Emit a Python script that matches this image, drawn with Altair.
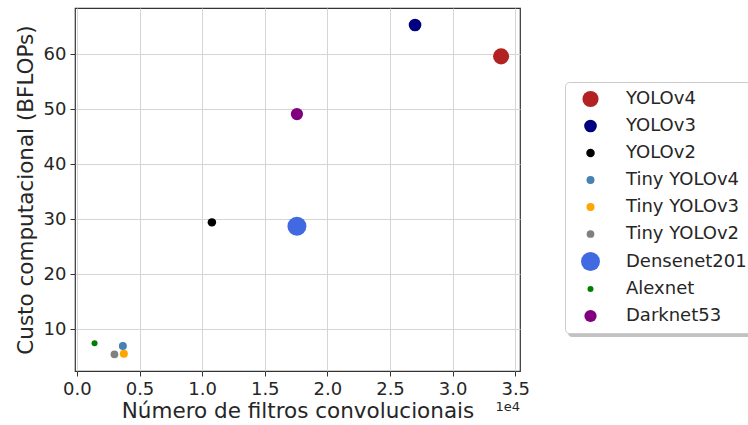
import altair as alt
import pandas as pd

# Model names, convolutional filter counts, cost (BFLOPs), marker areas and colours
models = ["YOLOv4", "YOLOv3", "YOLOv2", "Tiny YOLOv4", "Tiny YOLOv3",
          "Tiny YOLOv2", "Densenet201", "Alexnet", "Darknet53"]
filters = [33870, 27000, 10780, 3670, 3750, 3000, 17570, 1410, 17570]
bflops = [59.6, 65.3, 29.4, 6.9, 5.5, 5.4, 28.7, 7.4, 49.1]
areas = [260, 160, 72, 64, 64, 60, 360, 36, 150]
colors = ["#b22222", "#000080", "#000000", "#4682b4", "#ffa500",
          "#808080", "#4169e1", "#008000", "#800080"]

df = pd.DataFrame({"model": models, "filters": filters, "bflops": bflops})

FONT = "DejaVu Sans"
TEXT = "#262626"

points = alt.Chart(df).mark_circle(opacity=1).encode(
    x=alt.X("filters:Q",
            scale=alt.Scale(domain=[-150, 35380], nice=False, zero=False),
            axis=alt.Axis(values=[0, 5000, 10000, 15000, 20000, 25000, 30000, 35000],
                          labelExpr="format(datum.value / 10000, '.1f')",
                          title="Número de filtros convolucionais")),
    y=alt.Y("bflops:Q",
            scale=alt.Scale(domain=[2.36, 68.4], nice=False, zero=False),
            axis=alt.Axis(values=[10, 20, 30, 40, 50, 60],
                          title="Custo computacional (BFLOPs)")),
    color=alt.Color("model:N", scale=alt.Scale(domain=models, range=colors),
                    legend=alt.Legend(title=None, orient="none",
                                      legendX=490, legendY=74)),
    size=alt.Size("model:N",
                  scale=alt.Scale(type="ordinal", domain=models, range=areas)),
)

# Drop shadow behind the legend box
shadow = alt.Chart(pd.DataFrame({"s": [0]})).mark_rect(
    color="#9a9a9a", opacity=0.6, cornerRadius=4
).encode(x=alt.value(493), x2=alt.value(700), y=alt.value(78), y2=alt.value(329))

# Scale multiplier shown under the right end of the x axis
offset = alt.Chart(pd.DataFrame({"t": ["1e4"]})).mark_text(
    font=FONT, fontSize=13, color=TEXT, align="right", baseline="top"
).encode(text="t:N", x=alt.value(445), y=alt.value(393))

chart = alt.layer(shadow, points, offset).properties(
    width=445, height=363,
    autosize=alt.AutoSizeParams(type="none"),
    padding={"left": 75, "top": 8, "right": 228, "bottom": 54},
).configure_view(
    stroke="#333333", strokeWidth=1.2
).configure_axis(
    labelFont=FONT, titleFont=FONT, labelFontSize=18, titleFontSize=21.5,
    labelColor=TEXT, titleColor=TEXT, titleFontWeight="normal",
    grid=True, gridColor="#d5d5d5", gridWidth=1,
    domain=False, tickColor="#333333", tickSize=5, labelPadding=4,
).configure_axisX(
    titlePadding=2
).configure_axisY(
    titlePadding=6
).configure_legend(
    labelFont=FONT, labelFontSize=18, labelColor=TEXT,
    symbolType="circle", symbolStrokeWidth=0, symbolOpacity=1,
    strokeColor="#cccccc", fillColor="white", cornerRadius=4,
    padding=8, rowPadding=9, symbolOffset=8, labelOffset=26,
)

chart.save("out.html", embed_options={"renderer": "svg", "actions": False})
